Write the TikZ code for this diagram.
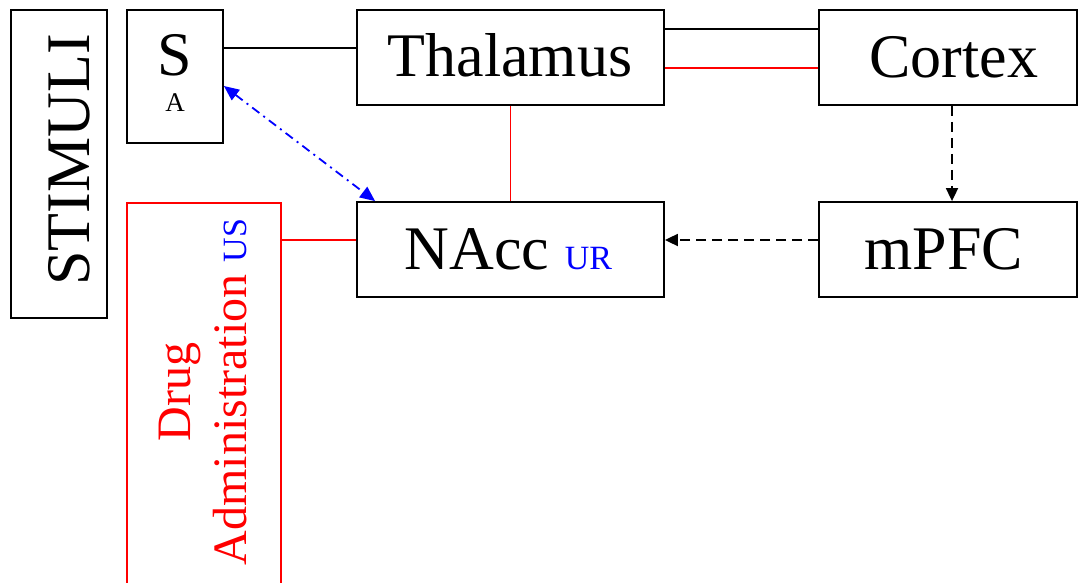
\documentclass[tikz,border=0pt]{standalone}
\usepackage{fontspec}
\setmainfont{Liberation Serif}
\usetikzlibrary{arrows.meta}
\begin{document}
\begin{tikzpicture}[x=1pt,y=-1pt,
  blk/.style={draw=black, line width=1.8pt, inner sep=0pt},
  big/.style={font=\fontsize{62}{62}\selectfont, inner sep=0pt},
  conn/.style={line width=1.8pt},
  dasharrow/.style={conn, dash pattern=on 10pt off 6pt, -{Triangle[length=13pt,width=12pt]}},
  dotarrow/.style={conn, blue, dash pattern=on 9pt off 5pt on 2pt off 5pt,
     {Triangle[length=15pt,width=13pt]}-{Triangle[length=15pt,width=13pt]}}]
\useasboundingbox (0,0) rectangle (1079,583);
% boxes
\node[blk, minimum width=96pt, minimum height=308pt] (stim) at (59,164) {};
\node[big, rotate=90] (stimtext) at (69,160) {STIMULI};
\node[blk, minimum width=96pt, minimum height=133pt] (sa) at (175,76.5) {};
\node[big] (stext) at (175,55) {S};
\node[font=\fontsize{27}{27}\selectfont, inner sep=0pt] (atext) at (175,103) {A};
\node[blk, minimum width=307pt, minimum height=95pt] (thal) at (510.5,57.5) {};
\node[big] (thaltext) at (510,55.5) {Thalamus};
\node[blk, minimum width=258pt, minimum height=95pt] (cortex) at (948,57.5) {};
\node[big] (cortextext) at (954,57) {Cortex};
\node[blk, minimum width=307pt, minimum height=95pt] (nacc) at (510.5,249.5) {};
\node[big] (nacctext) at (508.5,249.5) {NAcc {\color{blue}\fontsize{34}{34}\selectfont UR}};
\node[blk, minimum width=258pt, minimum height=95pt] (mpfc) at (948,249.5) {};
\node[big] (mpfctext) at (944,249.5) {mPFC};
\node[draw=red, line width=1.8pt, inner sep=0pt, minimum width=154pt, minimum height=400pt, anchor=north] (drug) at (204,202) {};
\node[text=red, rotate=90, align=center, inner sep=0pt, font=\fontsize{48}{56}\selectfont] (drugtext) at (203,392)
  {Drug\\Administration {\color{blue}\fontsize{34}{34}\selectfont US}};
% connectors
\draw[conn] ([yshift=28.5pt]sa.east) -- ([yshift=9.5pt]thal.west);
\draw[conn] ([yshift=28.5pt]thal.east) -- ([yshift=28.5pt]cortex.west);
\draw[conn, red] ([yshift=-10.5pt]thal.east) -- ([yshift=-10.5pt]cortex.west);
\draw[conn, red] (thal.south) -- (nacc.north);
\draw[conn, red] ([yshift=9.5pt]nacc.west) -- ([yshift=9.5pt]nacc.west -| drug.east);
\draw[dasharrow] ([xshift=4pt]cortex.south) -- ([xshift=4pt]mpfc.north);
\draw[dasharrow] ([yshift=9.5pt]mpfc.west) -- ([yshift=9.5pt]nacc.east);
\draw[dotarrow] ([yshift=-9.5pt]sa.east) -- ([xshift=19pt]nacc.north west);
\end{tikzpicture}
\end{document}
